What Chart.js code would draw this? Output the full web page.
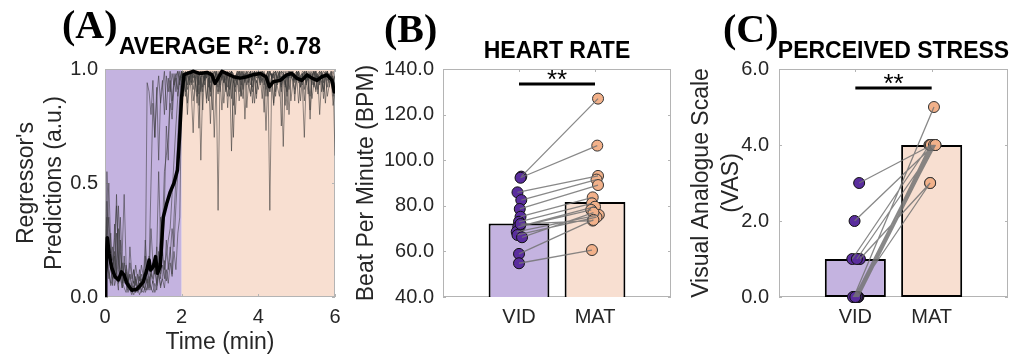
<!DOCTYPE html>
<html><head><meta charset="utf-8">
<script src="https://cdn.jsdelivr.net/npm/chart.js@4.4.1/dist/chart.umd.min.js"></script>
<style>
html,body{margin:0;padding:0;background:#fff;}
#wrap{position:relative;width:1022px;height:356px;overflow:hidden;background:#fff;}
canvas{position:absolute;left:0;top:0;}
</style></head><body>
<div id="wrap">
<canvas id="cA" width="1022" height="356"></canvas>
<canvas id="cB" width="1022" height="356"></canvas>
<canvas id="cC" width="1022" height="356"></canvas>
</div>
<script>
// ---------------- DATA ----------------
// Panel A: time (min) of regressor samples
const timeMin = [0,.05,.1,.15,.2,.25,.3,.35,.4,.45,.5,.55,.6,.65,.7,.75,.8,.85,.9,.95,
1,1.05,1.1,1.15,1.2,1.25,1.3,1.35,1.4,1.45,1.5,1.55,1.6,1.65,1.7,1.75,1.8,1.85,1.9,1.95,
2,2.05,2.1,2.15,2.2,2.25,2.3,2.35,2.4,2.45,2.5,2.55,2.6,2.65,2.7,2.75,2.8,2.85,2.9,2.95,
3,3.05,3.1,3.15,3.2,3.25,3.3,3.35,3.4,3.45,3.5,3.55,3.6,3.65,3.7,3.75,3.8,3.85,3.9,3.95,
4,4.05,4.1,4.15,4.2,4.25,4.3,4.35,4.4,4.45,4.5,4.55,4.6,4.65,4.7,4.75,4.8,4.85,4.9,4.95,
5,5.05,5.1,5.15,5.2,5.25,5.3,5.35,5.4,5.45,5.5,5.55,5.6,5.65,5.7,5.75,5.8,5.85,5.9,5.95,6];
// individual subjects' regressor predictions (a.u.)
const predS1 = [0,.42,.20,.12,.08,.18,.10,.30,.12,.06,.15,.08,.04,.10,.05,.03,.08,.04,.12,.06,
.10,.05,.94,.90,.80,.95,.70,.88,.97,.85,.92,.99,.82,.96,.90,.98,.93,.97,.99,.95,
.99,.97,.99,.93,.98,.99,.96,.99,.90,.98,.99,.97,.95,.99,.86,.98,.99,.96,.98,.97,
.99,.95,.98,.99,.92,.97,.99,.98,.80,.96,.99,.97,.99,.94,.98,.99,.96,.90,.99,.97,
.98,.99,.95,.98,.88,.97,.99,.96,.98,.99,.93,.97,.99,.98,.84,.96,.99,.97,.99,.95,
.98,.99,.92,.97,.99,.96,.98,.82,.97,.99,.95,.98,.99,.90,.97,.98,.99,.94,.97,.96,.93];
const predS2 = [0,.55,.30,.15,.22,.10,.28,.12,.08,.20,.45,.15,.06,.10,.04,.12,.06,.03,.09,.05,
.08,.12,.06,.18,.09,.15,.10,.22,.12,.35,.30,.55,.62,.70,.85,.78,.92,.96,.88,.97,
.96,.98,.90,.97,.99,.94,.98,.96,.85,.97,.99,.92,.98,.96,.99,.88,.97,.95,.99,.38,
.97,.99,.94,.98,.96,.88,.99,.97,.95,.98,.90,.99,.96,.98,.93,.97,.99,.85,.96,.98,
.99,.94,.97,.99,.96,.92,.98,.97,.99,.90,.96,.98,.99,.95,.97,.88,.99,.96,.98,.94,
.97,.99,.95,.98,.86,.96,.99,.97,.98,.93,.99,.96,.98,.99,.91,.97,.99,.96,.98,.88,.94];
const predS3 = [0,.25,.35,.18,.12,.08,.15,.40,.20,.10,.06,.14,.08,.05,.03,.07,.02,.05,.03,.08,
.04,.10,.06,.03,.12,.08,.15,.06,.20,.10,.14,.08,.25,.12,.18,.30,.22,.40,.55,.80,
.97,.99,.96,.98,.93,.99,.97,.95,.98,.99,.90,.97,.96,.99,.98,.94,.97,.99,.96,.92,
.98,.97,.99,.95,.98,.99,.87,.97,.96,.99,.98,.93,.97,.99,.96,.98,.99,.95,.97,.99,
.96,.98,.99,.94,.97,.99,.38,.98,.96,.99,.97,.95,.98,.99,.92,.97,.96,.99,.98,.86,
.99,.97,.96,.99,.98,.94,.97,.99,.96,.98,.99,.91,.97,.96,.99,.98,.95,.97,.99,.96,.62];
const predS4 = [0,.20,.08,.14,.05,.32,.12,.06,.10,.04,.18,.07,.03,.06,.02,.04,.09,.03,.06,.02,
.05,.03,.08,.04,.10,.06,.12,.05,.15,.08,.20,.12,.18,.25,.30,.45,.60,.75,.88,.95,
.98,.92,.96,.85,.97,.90,.72,.95,.88,.98,.60,.93,.97,.85,.96,.91,.98,.70,.94,.89,
.96,.82,.97,.93,.88,.98,.64,.95,.90,.97,.86,.94,.99,.78,.96,.92,.89,.98,.85,.95,
.91,.97,.87,.94,.73,.96,.90,.98,.84,.95,.92,.88,.97,.66,.95,.90,.98,.86,.94,.91,
.97,.85,.95,.92,.70,.96,.89,.98,.87,.94,.91,.97,.80,.95,.90,.98,.88,.93,.96,.84,.90];
const predS5 = [0,.30,.50,.22,.16,.26,.40,.18,.10,.15,.08,.12,.05,.22,.10,.06,.14,.08,.05,.10,
.06,.25,.12,.08,.30,.15,.10,.20,.55,.25,.18,.40,.75,.60,.95,.82,.98,.90,.99,.93,
.99,.96,.88,.98,.95,.99,.91,.97,.99,.84,.96,.98,.93,.99,.97,.76,.98,.95,.99,.90,
.97,.99,.94,.98,.83,.97,.99,.96,.92,.98,.99,.95,.87,.97,.99,.94,.98,.96,.99,.89,
.97,.95,.99,.98,.91,.96,.99,.97,.85,.98,.96,.99,.93,.97,.98,.99,.80,.96,.98,.95,
.99,.97,.92,.98,.96,.99,.94,.88,.97,.99,.96,.98,.93,.99,.97,.85,.98,.96,.99,.95,.97];
const predS6 = [0,.15,.10,.05,.08,.12,.45,.15,.08,.04,.10,.06,.02,.05,.03,.01,.04,.02,.06,.03,
.02,.05,.03,.08,.04,.02,.06,.03,.10,.05,.08,.04,.12,.06,.15,.09,.20,.12,.28,.35,
.90,.98,.95,.99,.97,.93,.99,.96,.98,.89,.97,.99,.95,.98,.92,.99,.97,.96,.99,.94,
.98,.96,.99,.91,.97,.98,.99,.94,.96,.99,.97,.88,.98,.95,.99,.97,.93,.98,.99,.96,
.99,.97,.94,.98,.96,.99,.92,.97,.98,.99,.95,.97,.90,.98,.99,.96,.97,.99,.94,.98,
.96,.99,.97,.93,.98,.99,.95,.97,.99,.92,.98,.96,.99,.97,.94,.98,.99,.96,.97,.99,.95];
const predS7 = [0,.35,.18,.28,.12,.20,.09,.16,.35,.14,.07,.11,.06,.15,.08,.12,.05,.10,.07,.14,
.09,.18,.10,.14,.50,.85,.70,.92,.60,.88,.95,.80,.97,.90,.99,.86,.94,.98,.91,.99,
.94,.88,.97,.80,.95,.99,.86,.93,.97,.74,.96,.90,.99,.87,.95,.98,.82,.96,.93,.99,
.90,.97,.85,.95,.99,.91,.96,.70,.97,.93,.99,.88,.95,.98,.83,.96,.99,.92,.97,.87,
.98,.93,.96,.81,.97,.99,.90,.95,.98,.88,.96,.99,.75,.97,.93,.98,.91,.96,.99,.89,
.95,.98,.86,.96,.99,.93,.97,.78,.95,.99,.90,.97,.94,.98,.87,.96,.99,.92,.97,.95,.89];
const predS8 = [0,.22,.12,.06,.15,.05,.09,.03,.25,.07,.04,.02,.08,.03,.01,.05,.02,.04,.01,.03,
.06,.02,.04,.09,.03,.07,.02,.05,.11,.04,.09,.16,.07,.13,.22,.10,.35,.52,.70,.88,
.99,.95,.98,.91,.99,.97,.94,.98,.99,.93,.97,.82,.99,.96,.98,.90,.97,.99,.95,.98,
.93,.99,.97,.90,.98,.96,.99,.84,.97,.98,.95,.99,.91,.97,.98,.96,.88,.99,.97,.94,
.98,.96,.99,.93,.97,.88,.99,.96,.98,.94,.99,.97,.92,.98,.96,.82,.99,.97,.95,.98,
.99,.94,.97,.98,.91,.99,.96,.98,.93,.97,.99,.89,.96,.98,.97,.99,.92,.98,.96,.97,.91];
// average prediction (thick black line)
const meanTime = [0,0.02,0.06,0.11,0.17,0.26,0.35,0.43,0.50,0.57,0.70,0.83,0.91,1.00,1.09,1.15,1.19,1.26,1.32,1.37,1.44,1.52,1.61,1.70,1.80,1.89,1.94,2.00,2.06,2.13,2.31,2.48,2.66,2.79,2.87,2.92,3.05,3.18,3.35,3.53,3.70,3.87,4.05,4.20,4.29,4.39,4.57,4.74,4.87,5.00,5.13,5.27,5.40,5.53,5.66,5.79,5.92,5.98];
const meanPred = [0,0.10,0.26,0.19,0.13,0.09,0.075,0.11,0.096,0.06,0.03,0.034,0.048,0.067,0.118,0.162,0.118,0.133,0.177,0.104,0.133,0.35,0.41,0.46,0.50,0.557,0.69,0.88,0.974,0.98,0.99,0.98,0.985,0.974,0.937,0.95,0.99,0.98,0.966,0.96,0.966,0.975,0.98,0.966,0.922,0.944,0.95,0.974,0.98,0.96,0.95,0.974,0.96,0.95,0.966,0.974,0.95,0.90];
const phaseBounds = [0, 2, 6];          // VID phase 0–2 min, MAT phase 2–6 min
const timeTicks = [0, 2, 4, 6];
const predTicks = [0, 0.5, 1];

// Panels B & C
const groups = ['VID', 'MAT'];
const hrVID = [92.8, 92.3, 85.9, 82.5, 78.6, 75.2, 73.0, 71.0, 70.8, 68.6, 67.2, 66.2, 72.0, 58.9, 54.8];
const hrMAT = [127.0, 106.4, 93.1, 91.5, 89.1, 83.7, 81.1, 79.6, 78.2, 76.0, 75.0, 77.0, 73.5, 73.8, 60.6];
const hrMeans = [72.2, 81.7];
const hrJitVID = [0.03, 0.02, -0.02, 0.03, 0.01, 0.02, 0.0, 0.01, -0.01, -0.03, -0.02, 0.04, 0.02, 0.0, 0.0];
const hrJitMAT = [0.04, 0.03, 0.04, 0.02, 0.04, -0.03, -0.04, 0.0, -0.05, 0.05, 0.02, -0.02, -0.03, -0.02, -0.04];
const hrTicks = [40, 60, 80, 100, 120, 140];
const hrSig = 133.4;

const vasVID = [3, 2, 1, 1, 1, 0, 0, 0, 0, 0, 0, 0, 0, 0, 0];
const vasMAT = [4, 4, 4, 3, 4, 5, 4, 4, 4, 4, 4, 4, 3, 4, 4];
const vasMeans = [1.0, 4.0];
const vasJitVID = [0.05, -0.01, -0.04, 0.06, 0.02, -0.02, 0.0, 0.02, 0.04, -0.01, 0.03, 0.01, -0.03, 0.02, 0.0];
const vasJitMAT = [0.0, 0.03, -0.03, -0.02, 0.05, 0.03, 0.01, -0.02, 0.04, 0.0, 0.02, -0.01, -0.02, 0.03, 0.05];
const vasTicks = [0, 2, 4, 6];
const vasSig = 5.5;

// ---------------- STYLE ----------------
const FONT = '"Liberation Sans", Arial, Helvetica, sans-serif';
const SERIF = '"Liberation Serif", "Times New Roman", serif';
const TXT = '#262626';
const BOX = '#b4b4b4';
const PURPLE_BG = '#c4b3e0';
const PEACH_BG = '#f8dfd1';
const PURPLE_PT = '#5a2d9e';
const PEACH_PT = '#f2b18a';
Chart.defaults.font.family = FONT;

const decor = {
  id: 'decor',
  beforeDatasetsDraw(chart, args, o) {
    const {ctx, chartArea: a, scales: {x, y}} = chart;
    ctx.save();
    if (o.phases) {
      for (let i = 0; i < o.phases.bounds.length - 1; i++) {
        const x0 = x.getPixelForValue(o.phases.bounds[i]);
        const x1 = x.getPixelForValue(o.phases.bounds[i + 1]);
        ctx.fillStyle = o.phases.colors[i];
        ctx.fillRect(x0, a.top, x1 - x0, a.bottom - a.top);
      }
    }
    ctx.strokeStyle = BOX; ctx.lineWidth = 1;
    ctx.strokeRect(a.left + 0.5, a.top + 0.5, a.right - a.left - 1, a.bottom - a.top - 1);
    const tl = 3;
    ctx.beginPath();
    y.ticks.forEach(t => {
      const py = Math.round(y.getPixelForValue(t.value)) + 0.5;
      ctx.moveTo(a.left, py); ctx.lineTo(a.left + tl, py);
      ctx.moveTo(a.right, py); ctx.lineTo(a.right - tl, py);
    });
    x.ticks.forEach(t => {
      const px = Math.round(x.getPixelForValue(t.value)) + 0.5;
      ctx.moveTo(px, a.bottom); ctx.lineTo(px, a.bottom - tl);
      ctx.moveTo(px, a.top); ctx.lineTo(px, a.top + tl);
    });
    ctx.stroke();
    ctx.restore();
  },
  afterDatasetsDraw(chart, args, o) {
    if (!o.sig) return;
    const {ctx, scales: {x, y}} = chart;
    const py = y.getPixelForValue(o.sig.value);
    const x0 = x.getPixelForValue(1), x1 = x.getPixelForValue(2);
    ctx.save();
    ctx.strokeStyle = '#000'; ctx.lineWidth = 3;
    ctx.beginPath(); ctx.moveTo(x0, py); ctx.lineTo(x1, py); ctx.stroke();
    ctx.fillStyle = '#000'; ctx.font = '26px ' + FONT;
    ctx.textAlign = 'center'; ctx.textBaseline = 'alphabetic';
    ctx.fillText(o.sig.text, (x0 + x1) / 2, py + 4);
    ctx.restore();
  },
  afterDraw(chart, args, o) {
    const {ctx, chartArea: a} = chart;
    ctx.save();
    ctx.textBaseline = 'alphabetic';
    // panel label
    ctx.fillStyle = '#000';
    ctx.font = 'bold 40px ' + SERIF; ctx.textAlign = 'left';
    ctx.fillText(o.label.text, a.left + o.label.dx, o.label.baseline);
    // title (with optional superscript parts)
    let w = 0;
    o.title.parts.forEach(p => { ctx.font = p.font; p.w = ctx.measureText(p.text).width; w += p.w; });
    let tx = (a.left + a.right) / 2 - w / 2;
    o.title.parts.forEach(p => { ctx.font = p.font; ctx.fillText(p.text, tx, o.title.baseline + (p.dy || 0)); tx += p.w; });
    // y title
    ctx.fillStyle = TXT; ctx.font = '23px ' + FONT;
    ctx.textAlign = 'center'; ctx.textBaseline = 'middle';
    const cy = (a.top + a.bottom) / 2;
    o.yTitle.lines.forEach((line, i) => {
      ctx.save();
      ctx.translate(a.left + o.yTitle.dx[i], cy);
      ctx.rotate(-Math.PI / 2);
      ctx.fillText(line, 0, 0);
      ctx.restore();
    });
    if (o.xTitle) {
      ctx.textBaseline = 'alphabetic';
      ctx.fillText(o.xTitle.text, (a.left + a.right) / 2, o.xTitle.baseline);
    }
    ctx.restore();
  }
};

function axis(min, max, tickVals, cb, pad, size, isX) {
  return {
    type: 'linear', min, max, offset: false,
    grid: {display: false, drawTicks: false}, border: {display: false},
    ticks: {color: TXT, font: {family: FONT, size: 20}, padding: pad, autoSkip: false, maxRotation: 0, callback: cb},
    afterBuildTicks: s => { s.ticks = tickVals.map(v => ({value: v})); },
    afterFit: s => { if (isX) s.height = size; else s.width = size; }
  };
}

// ---------------- PANEL A ----------------
const traces = [predS1, predS2, predS3, predS4, predS5, predS6, predS7, predS8];
const dsA = traces.map(tr => ({
  data: timeMin.map((t, i) => ({x: t, y: tr[i]})),
  borderColor: 'rgba(55,55,55,0.55)', borderWidth: 1, pointRadius: 0, tension: 0, order: 1
}));
dsA.push({
  data: meanTime.map((t, i) => ({x: t, y: meanPred[i]})),
  borderColor: '#000', borderWidth: 3.5, pointRadius: 0, tension: 0, order: 0,
  borderJoinStyle: 'round', borderCapStyle: 'round'
});
new Chart(document.getElementById('cA'), {
  type: 'line',
  data: {datasets: dsA},
  options: {
    responsive: false, animation: false, devicePixelRatio: 1, events: [],
    layout: {padding: {left: 0, top: 69, right: 1022 - 335, bottom: 0}},
    scales: {
      x: axis(0, 6, timeTicks, v => String(v), 8, 59, true),
      y: axis(0, 1, predTicks, v => v.toFixed(1), 7, 105, false)
    },
    plugins: {
      legend: {display: false}, tooltip: {enabled: false},
      decor: {
        phases: {bounds: phaseBounds, colors: [PURPLE_BG, PEACH_BG]},
        label: {text: '(A)', dx: -43, baseline: 38},
        title: {baseline: 54, parts: [
          {text: 'AVERAGE R', font: 'bold 23px ' + FONT},
          {text: '2', font: 'bold 15px ' + FONT, dy: -9},
          {text: ': 0.78', font: 'bold 23px ' + FONT}
        ]},
        yTitle: {lines: ["Regressor's", 'Predictions (a.u.)'], dx: [-78, -50]},
        xTitle: {text: 'Time (min)', baseline: 349}
      }
    }
  },
  plugins: [decor]
});

// ---------------- PANELS B & C ----------------
function pairedChart(id, c) {
  const ptsV = c.vid.map((v, i) => ({x: 1 + c.jv[i], y: v}));
  const ptsM = c.mat.map((v, i) => ({x: 2 + c.jm[i], y: v}));
  const links = [];
  c.vid.forEach((v, i) => { links.push(ptsV[i], ptsM[i], {x: 1.5, y: null}); });
  new Chart(document.getElementById(id), {
    type: 'bar',
    data: {datasets: [
      {type: 'line', data: links, borderColor: 'rgba(115,115,115,0.85)', borderWidth: 1.3,
       pointRadius: 0, spanGaps: false, order: 0, clip: false},
      {type: 'line', data: ptsV, showLine: false, pointRadius: 5.5, pointBackgroundColor: PURPLE_PT,
       pointBorderColor: '#111', pointBorderWidth: 1, order: 1, clip: false},
      {type: 'line', data: ptsM, showLine: false, pointRadius: 5.5, pointBackgroundColor: PEACH_PT,
       pointBorderColor: '#333', pointBorderWidth: 1, order: 1, clip: false},
      {type: 'bar', data: c.means.map((m, i) => ({x: i + 1, y: m})),
       backgroundColor: [PURPLE_BG, PEACH_BG], borderColor: '#000', borderWidth: 2,
       borderSkipped: false, categoryPercentage: 0.8, barPercentage: 1, order: 2}
    ]},
    options: {
      responsive: false, animation: false, devicePixelRatio: 1, events: [],
      layout: {padding: {left: 0, top: 69, right: 1022 - c.right, bottom: 0}},
      scales: {
        x: axis(0, 3, [1, 2], v => groups[v - 1], 8, 59, true),
        y: axis(c.ticks[0], c.ticks[c.ticks.length - 1], c.ticks, v => v.toFixed(1), c.ypad, c.left, false)
      },
      plugins: {
        legend: {display: false}, tooltip: {enabled: false},
        decor: {
          sig: {value: c.sig, text: '**'},
          label: c.label,
          title: {baseline: 58, parts: [{text: c.title, font: 'bold 23px ' + FONT}]},
          yTitle: c.yTitle
        }
      }
    },
    plugins: [decor]
  });
}

pairedChart('cB', {
  vid: hrVID, mat: hrMAT, jv: hrJitVID, jm: hrJitMAT, means: hrMeans, ticks: hrTicks, sig: hrSig,
  left: 443, right: 671, ypad: 9,
  label: {text: '(B)', dx: -59, baseline: 42},
  title: 'HEART RATE',
  yTitle: {lines: ['Beat Per Minute (BPM)'], dx: [-76]}
});
pairedChart('cC', {
  vid: vasVID, mat: vasMAT, jv: vasJitVID, jm: vasJitMAT, means: vasMeans, ticks: vasTicks, sig: vasSig,
  left: 779, right: 1008, ypad: 10,
  label: {text: '(C)', dx: -56, baseline: 42},
  title: 'PERCEIVED STRESS',
  yTitle: {lines: ['Visual Analogue Scale', '(VAS)'], dx: [-77, -47]}
});
</script>
</body></html>
